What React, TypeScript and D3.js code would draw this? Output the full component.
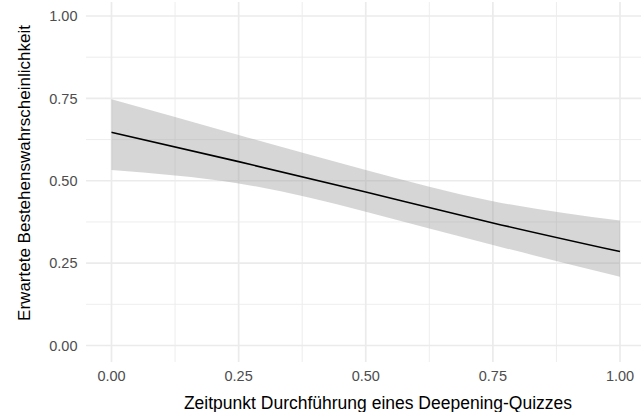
import React from "react";
import * as d3 from "d3";

const xValues = [0, 0.25, 0.5, 0.75, 1];
const fitValues = [0.647, 0.558, 0.466, 0.372, 0.285];
const lowerValues = [0.533, 0.492, 0.406, 0.305, 0.209];
const upperValues = [0.747, 0.639, 0.533, 0.438, 0.379];
const xTicks = [0, 0.25, 0.5, 0.75, 1];
const yTicks = [0, 0.25, 0.5, 0.75, 1];
const xMinor = [0.125, 0.375, 0.625, 0.875];
const yMinor = [0.125, 0.375, 0.625, 0.875];
const xTitle = "Zeitpunkt Durchführung eines Deepening-Quizzes";
const yTitle = "Erwartete Bestehenswahrscheinlichkeit";

export default function App() {
  const W = 641, H = 412;
  const x = d3.scaleLinear().domain([0, 1]).range([111.5, 620]);
  const y = d3.scaleLinear().domain([0, 1]).range([345.5, 16]);
  const px0 = x(-0.05), px1 = x(1.05);
  const py0 = y(-0.05), py1 = Math.max(y(1.05), 2);
  const pts = xValues.map((v, i) => ({ x: v, f: fitValues[i], lo: lowerValues[i], hi: upperValues[i] }));
  const area = d3.area<any>().x(d => x(d.x)).y0(d => y(d.lo)).y1(d => y(d.hi)).curve(d3.curveNatural);
  const line = d3.line<any>().x(d => x(d.x)).y(d => y(d.f)).curve(d3.curveNatural);
  const fmt = d3.format(".2f");
  const font = "'Liberation Sans', Arial, sans-serif";
  return (
    <svg width={W} height={H} style={{ position: "absolute", left: 0, top: 0, background: "#fff" }} fontFamily={font}>
      <rect width={W} height={H} fill="#fff" />
      {xMinor.map(v => <line key={"xm" + v} x1={x(v)} x2={x(v)} y1={py1} y2={py0} stroke="#ebebeb" strokeWidth={0.9} />)}
      {yMinor.map(v => <line key={"ym" + v} x1={px0} x2={px1} y1={y(v)} y2={y(v)} stroke="#ebebeb" strokeWidth={0.9} />)}
      {xTicks.map(v => <line key={"xg" + v} x1={x(v)} x2={x(v)} y1={py1} y2={py0} stroke="#ebebeb" strokeWidth={1.7} />)}
      {yTicks.map(v => <line key={"yg" + v} x1={px0} x2={px1} y1={y(v)} y2={y(v)} stroke="#ebebeb" strokeWidth={1.7} />)}
      <path d={area(pts) || ""} fill="#999999" fillOpacity={0.4} />
      <path d={line(pts) || ""} fill="none" stroke="#000" strokeWidth={1.6} />
      {xTicks.map(v => (
        <text key={"xt" + v} x={x(v)} y={381} textAnchor="middle" fontSize={14.5} fill="#4d4d4d">{fmt(v)}</text>
      ))}
      {yTicks.map(v => (
        <text key={"yt" + v} x={77.5} y={y(v)} dy="0.36em" textAnchor="end" fontSize={14.5} fill="#4d4d4d">{fmt(v)}</text>
      ))}
      <text x={378} y={409} textAnchor="middle" fontSize={17.5} fill="#000">{xTitle}</text>
      <text transform={`translate(30,173) rotate(-90)`} textAnchor="middle" fontSize={17} fill="#000">{yTitle}</text>
    </svg>
  );
}
